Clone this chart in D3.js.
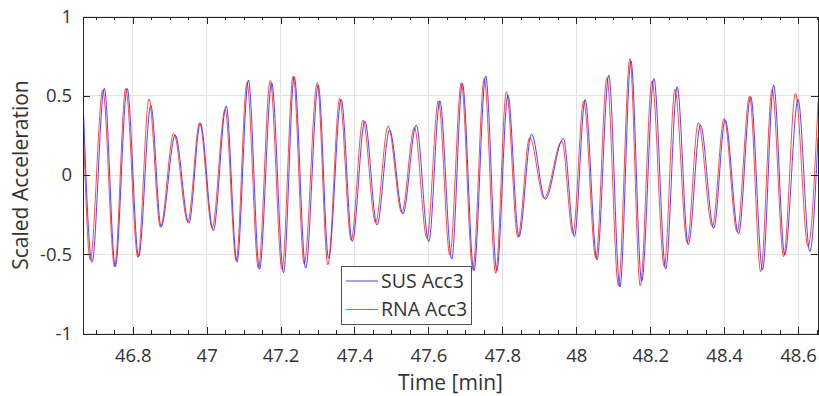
<!DOCTYPE html>
<html>
<head>
<meta charset="utf-8">
<script src="https://cdn.jsdelivr.net/npm/d3@7"></script>
<style>
  html, body { margin: 0; padding: 0; background: #fff; }
  svg { display: block; font-family: "Open Sans", "Segoe UI", sans-serif; }
</style>
</head>
<body>
<svg id="chart" width="819" height="396"></svg>
<script>
// ---- data (local extrema of each signal) ----
const susTime = [46.666, 46.690, 46.723, 46.753, 46.785, 46.816, 46.849, 46.877, 46.915, 46.952,
  46.983, 47.018, 47.053, 47.082, 47.113, 47.143, 47.176, 47.208, 47.237, 47.268,
  47.302, 47.330, 47.364, 47.394, 47.428, 47.461, 47.495, 47.531, 47.567, 47.601,
  47.631, 47.663, 47.692, 47.723, 47.755, 47.785, 47.815, 47.845, 47.879, 47.916,
  47.965, 47.995, 48.024, 48.056, 48.088, 48.118, 48.148, 48.177, 48.210, 48.242,
  48.273, 48.303, 48.336, 48.372, 48.403, 48.439, 48.472, 48.504, 48.534, 48.564,
  48.600, 48.632, 48.654];
const susAcc = [0.45, -0.55, 0.546, -0.578, 0.546, -0.515, 0.44, -0.326, 0.252, -0.305,
  0.326, -0.351, 0.435, -0.55, 0.599, -0.595, 0.582, -0.616, 0.62, -0.588,
  0.567, -0.525, 0.477, -0.42, 0.34, -0.315, 0.284, -0.246, 0.315, -0.42,
  0.468, -0.53, 0.578, -0.605, 0.624, -0.603, 0.504, -0.389, 0.258, -0.153,
  0.231, -0.388, 0.476, -0.535, 0.629, -0.706, 0.719, -0.671, 0.608, -0.593,
  0.556, -0.44, 0.315, -0.336, 0.347, -0.372, 0.494, -0.599, 0.567, -0.504,
  0.477, -0.483, 0.24];

const rnaTime = [46.666, 46.685, 46.719, 46.751, 46.781, 46.814, 46.844, 46.875, 46.911, 46.949,
  46.981, 47.015, 47.050, 47.080, 47.109, 47.140, 47.172, 47.204, 47.234, 47.264,
  47.299, 47.328, 47.360, 47.391, 47.423, 47.457, 47.491, 47.528, 47.562, 47.596,
  47.627, 47.658, 47.689, 47.720, 47.751, 47.782, 47.811, 47.842, 47.874, 47.913,
  47.961, 47.991, 48.020, 48.053, 48.083, 48.114, 48.145, 48.173, 48.205, 48.238,
  48.267, 48.300, 48.330, 48.368, 48.400, 48.435, 48.469, 48.499, 48.530, 48.561,
  48.593, 48.627, 48.654];
const rnaAcc = [0.33, -0.536, 0.536, -0.58, 0.546, -0.52, 0.48, -0.33, 0.263, -0.294,
  0.33, -0.336, 0.414, -0.536, 0.582, -0.588, 0.595, -0.595, 0.624, -0.561,
  0.582, -0.567, 0.483, -0.41, 0.347, -0.30, 0.309, -0.237, 0.30, -0.40,
  0.468, -0.504, 0.582, -0.595, 0.609, -0.62, 0.525, -0.393, 0.237, -0.147,
  0.214, -0.371, 0.467, -0.524, 0.614, -0.698, 0.734, -0.698, 0.593, -0.577,
  0.539, -0.426, 0.33, -0.326, 0.357, -0.357, 0.498, -0.609, 0.54, -0.515,
  0.515, -0.452, 0.46];

const seriesNames = ["SUS Acc3", "RNA Acc3"];
const seriesColors = ["#0000ff", "#ff0000"];

const xTickValues = [46.8, 47, 47.2, 47.4, 47.6, 47.8, 48, 48.2, 48.4, 48.6];
const xTickLabels = ["46.8", "47", "47.2", "47.4", "47.6", "47.8", "48", "48.2", "48.4", "48.6"];
const xMinorStep = 0.05;
const yTickValues = [-1, -0.5, 0, 0.5, 1];
const yTickLabels = ["-1", "-0.5", "0", "0.5", "1"];
const xDomain = [46.6655, 48.654];
const yDomain = [-1, 1];

// ---- layout ----
const svg = d3.select("#chart");
const L = 83, R = 818, T = 16.5, B = 333.5;
const x = d3.scaleLinear().domain(xDomain).range([L, R]);
const y = d3.scaleLinear().domain(yDomain).range([B, T]);
const axisColor = "#262626";
const textColor = "#333333";
const gridColor = "#e3e3e3";

// grid
const grid = svg.append("g");
grid.selectAll(".gx").data(xTickValues).join("line")
  .attr("x1", d => x(d)).attr("x2", d => x(d)).attr("y1", T).attr("y2", B)
  .attr("stroke", gridColor).attr("stroke-width", 1).attr("shape-rendering", "crispEdges");
grid.selectAll(".gy").data(yTickValues).join("line")
  .attr("x1", L).attr("x2", R).attr("y1", d => y(d)).attr("y2", d => y(d))
  .attr("stroke", gridColor).attr("stroke-width", 1).attr("shape-rendering", "crispEdges");

// clip
svg.append("clipPath").attr("id", "clip").append("rect")
  .attr("x", L).attr("y", T).attr("width", R - L).attr("height", B - T);

const line = d3.line().x(d => x(d[0])).y(d => y(d[1])).curve(d3.curveMonotoneX);
const series = [d3.zip(susTime, susAcc), d3.zip(rnaTime, rnaAcc)];
svg.append("g").attr("clip-path", "url(#clip)")
  .selectAll("path").data(series).join("path")
  .attr("d", line).attr("fill", "none")
  .attr("stroke", (d, i) => seriesColors[i]).attr("stroke-width", 0.9)
  .attr("stroke-opacity", 0.8);

// axes (ticks inward, box on)
const major = 7, minor = 3.5;
const minorTicks = d3.range(Math.ceil(xDomain[0] / xMinorStep) * xMinorStep, xDomain[1], xMinorStep)
  .filter(v => !xTickValues.some(t => Math.abs(t - v) < 1e-6));

const axB = svg.append("g").attr("transform", `translate(0,${B})`)
  .call(d3.axisBottom(x).tickValues(xTickValues).tickFormat((d, i) => xTickLabels[i]).tickSize(-major).tickPadding(major + 8));
const axT = svg.append("g").attr("transform", `translate(0,${T})`)
  .call(d3.axisTop(x).tickValues(xTickValues).tickFormat("").tickSize(-major));
const axL = svg.append("g").attr("transform", `translate(${L},0)`)
  .call(d3.axisLeft(y).tickValues(yTickValues).tickFormat((d, i) => yTickLabels[i]).tickSize(-major).tickPadding(major + 4));
const axR = svg.append("g").attr("transform", `translate(${R},0)`)
  .call(d3.axisRight(y).tickValues(yTickValues).tickFormat("").tickSize(-major));
const mB = svg.append("g").attr("transform", `translate(0,${B})`)
  .call(d3.axisBottom(x).tickValues(minorTicks).tickFormat("").tickSize(-minor));
const mT = svg.append("g").attr("transform", `translate(0,${T})`)
  .call(d3.axisTop(x).tickValues(minorTicks).tickFormat("").tickSize(-minor));

[axB, axT, axL, axR, mB, mT].forEach(g => {
  g.select(".domain").attr("stroke", axisColor).attr("stroke-width", 1).attr("shape-rendering", "crispEdges");
  g.selectAll(".tick line").attr("stroke", axisColor).attr("stroke-width", 1).attr("shape-rendering", "crispEdges");
  g.selectAll("text").attr("fill", textColor).attr("font-size", 18.5)
    .attr("font-family", "'Open Sans', sans-serif");
});
[mB, mT].forEach(g => g.select(".domain").remove());

// axis labels
svg.append("text").attr("x", (L + R) / 2).attr("y", 390)
  .attr("text-anchor", "middle").attr("font-size", 21).attr("fill", textColor)
  .text("Time [min]");
svg.append("text").attr("transform", `translate(28,${(T + B) / 2}) rotate(-90)`)
  .attr("text-anchor", "middle").attr("font-size", 21).attr("fill", textColor)
  .text("Scaled Acceleration");

// legend
const lg = svg.append("g");
lg.append("rect").attr("x", 341.5).attr("y", 266).attr("width", 130).attr("height", 58)
  .attr("fill", "#fff").attr("stroke", axisColor).attr("stroke-width", 0.8).attr("shape-rendering", "crispEdges");
seriesNames.forEach((name, i) => {
  const yy = 281 + i * 28.5;
  lg.append("line").attr("x1", 346).attr("x2", 378).attr("y1", yy).attr("y2", yy)
    .attr("stroke", seriesColors[i]).attr("stroke-width", 0.9).attr("stroke-opacity", 0.8);
  lg.append("text").attr("x", 381).attr("y", yy).attr("dy", "0.35em")
    .attr("font-size", 19.5).attr("fill", textColor).text(name);
});
</script>
</body>
</html>
